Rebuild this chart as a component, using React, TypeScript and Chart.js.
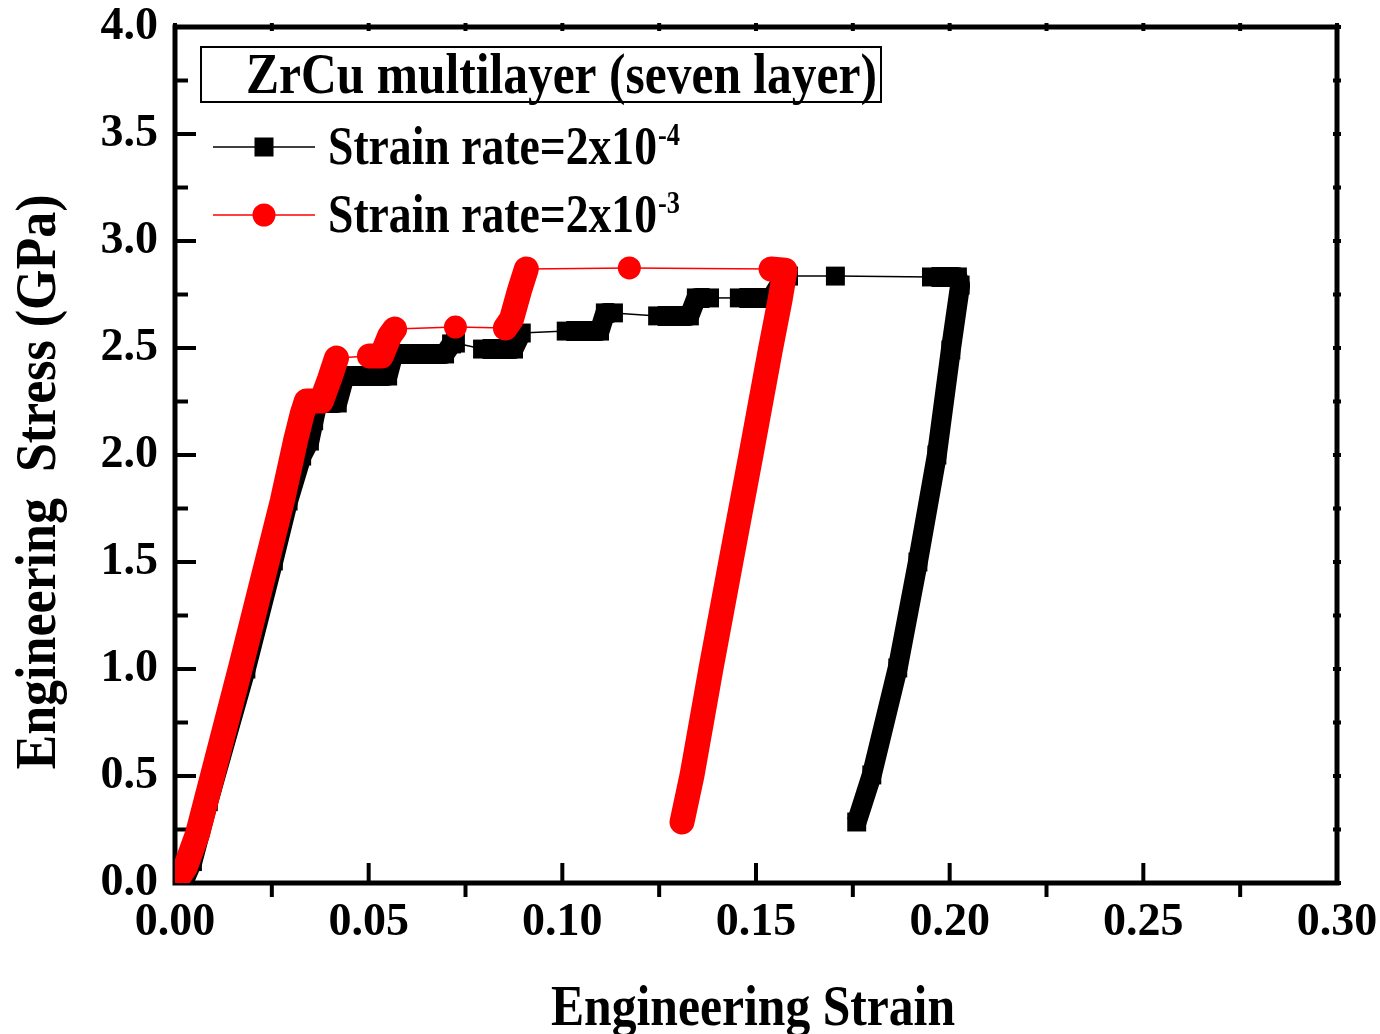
import React, { useEffect, useRef } from "react";
import { Chart, registerables } from "chart.js";

Chart.register(...registerables);

const FONT = '"Liberation Serif", "Times New Roman", serif';
const BLACK = "#000000";
const RED = "#ff0000";

// ---- data: strain rate 2x10^-4 (black squares) ----
const slowStrain = [
  0.0021, 0.0045, 0.0086, 0.0183, 0.0254, 0.0292, 0.0327, 0.0347, 0.0358, 0.0368, 0.0419, 0.0438, 0.0549, 0.0564, 0.0696, 0.0714, 0.0724,
  0.0794, 0.0874, 0.0894,
  0.101, 0.1096, 0.1111, 0.1132,
  0.1246, 0.1328, 0.1346, 0.138,
  0.1457, 0.154, 0.1566, 0.1584,
  0.1705,
  0.1953, 0.202, 0.2027, 0.2003, 0.1967, 0.1918, 0.1866, 0.1799, 0.176,
];
const slowStress = [
  0.0, 0.1, 0.38, 1.0, 1.505, 1.785, 1.995, 2.065, 2.16, 2.243, 2.243, 2.369, 2.369, 2.472, 2.472, 2.519, 2.523,
  2.495, 2.495, 2.57,
  2.579, 2.579, 2.664, 2.664,
  2.65, 2.65, 2.734, 2.734,
  2.734, 2.734, 2.813, 2.836,
  2.836,
  2.832, 2.832, 2.794, 2.491, 2.0, 1.5, 1.005, 0.505, 0.285,
];
// index where each densely sampled run of points begins
const slowRunStarts = [0, 17, 20, 24, 28, 32, 33];

// ---- data: strain rate 2x10^-3 (red circles) ----
const fastStrain = [
  0.0006, 0.0027, 0.0058, 0.0169, 0.0277, 0.0311, 0.0329, 0.0339, 0.0378, 0.0399, 0.0417,
  0.0502, 0.0533, 0.0554, 0.0567,
  0.0724,
  0.0853, 0.0869, 0.0889, 0.0907,
  0.1173,
  0.1539, 0.1575, 0.1562, 0.1537, 0.1487, 0.1435, 0.1384, 0.1335, 0.1309,
];
const fastStress = [
  0.019, 0.075, 0.229, 1.005, 1.785, 2.065, 2.196, 2.252, 2.252, 2.355, 2.453,
  2.463, 2.463, 2.556, 2.589,
  2.598,
  2.593, 2.636, 2.766, 2.869,
  2.874,
  2.869, 2.864, 2.724, 2.491, 2.0, 1.5, 1.005, 0.505, 0.285,
];
const fastRunStarts = [0, 11, 15, 16, 20, 21];

// ---- axes / labels ----
const xMin = 0;
const xMax = 0.3;
const xStep = 0.05;
const yMin = 0;
const yMax = 4.0;
const yStep = 0.5;
const xTitle = "Engineering Strain";
const yTitle = "Engineering  Stress (GPa)";
const legendTitle = "ZrCu multilayer (seven layer)";
const seriesLabels = ["Strain rate=2x10", "Strain rate=2x10"];
const seriesExponents = ["-4", "-3"];

function runIds(n: number, starts: number[]) {
  const ids: number[] = [];
  let r = -1;
  for (let i = 0; i < n; i++) {
    if (starts.includes(i)) r++;
    ids.push(r);
  }
  return ids;
}

function fitText(
  ctx: CanvasRenderingContext2D,
  text: string,
  x: number,
  y: number,
  size: number,
  width: number,
  align: CanvasTextAlign,
  rotate = false
) {
  ctx.save();
  ctx.font = `bold ${size}px ${FONT}`;
  const w = ctx.measureText(text).width;
  const sx = width / w;
  ctx.translate(x, y);
  if (rotate) ctx.rotate(-Math.PI / 2);
  ctx.scale(sx, 1);
  ctx.textAlign = align;
  ctx.textBaseline = "alphabetic";
  ctx.fillStyle = BLACK;
  ctx.fillText(text, 0, 0);
  ctx.restore();
}

const framePlugin = {
  id: "frame",
  beforeDatasetsDraw(chart: any) {
    const { ctx, chartArea: a, scales } = chart;
    const xs = scales.x;
    const ys = scales.y;
    ctx.save();
    ctx.strokeStyle = BLACK;
    ctx.fillStyle = BLACK;
    ctx.lineWidth = 5;
    ctx.strokeRect(a.left, a.top, a.right - a.left, a.bottom - a.top);
    ctx.lineWidth = 4;
    ctx.lineCap = "butt";
    const nx = Math.round((xMax - xMin) / (xStep / 2));
    for (let i = 0; i <= nx; i++) {
      const px = xs.getPixelForValue(xMin + (i * xStep) / 2);
      ctx.beginPath();
      if (i % 2 === 0) {
        ctx.moveTo(px, a.bottom);
        ctx.lineTo(px, a.bottom - 20);
      } else {
        ctx.moveTo(px, a.bottom);
        ctx.lineTo(px, a.bottom + 14);
      }
      ctx.stroke();
      ctx.beginPath();
      ctx.moveTo(px, a.top - 4);
      ctx.lineTo(px, a.top + 4);
      ctx.stroke();
    }
    const ny = Math.round((yMax - yMin) / (yStep / 2));
    for (let i = 0; i <= ny; i++) {
      const py = ys.getPixelForValue(yMin + (i * yStep) / 2);
      ctx.beginPath();
      ctx.moveTo(a.left, py);
      ctx.lineTo(a.left + (i % 2 === 0 ? 21 : 13), py);
      ctx.stroke();
      ctx.beginPath();
      ctx.moveTo(a.right - 4, py);
      ctx.lineTo(a.right + 4, py);
      ctx.stroke();
    }
    ctx.restore();
  },
};

const textPlugin = {
  id: "texts",
  afterDraw(chart: any) {
    const { ctx } = chart;
    ctx.save();
    // legend box
    ctx.strokeStyle = BLACK;
    ctx.lineWidth = 2;
    ctx.strokeRect(201, 47, 680, 55);
    fitText(ctx, legendTitle, 246, 93, 56, 631, "left");
    const rows = [
      { y: 147, color: BLACK, style: "rect", base: 164, sup: 145 },
      { y: 215, color: RED, style: "circle", base: 232, sup: 213 },
    ];
    rows.forEach((r, i) => {
      ctx.save();
      ctx.strokeStyle = r.color;
      ctx.fillStyle = r.color;
      ctx.lineWidth = 1.5;
      ctx.beginPath();
      ctx.moveTo(213, r.y);
      ctx.lineTo(315, r.y);
      ctx.stroke();
      if (r.style === "rect") {
        ctx.fillRect(264 - 9.5, r.y - 9.5, 19, 19);
      } else {
        ctx.beginPath();
        ctx.arc(264, r.y, 11.5, 0, Math.PI * 2);
        ctx.fill();
      }
      ctx.restore();
      fitText(ctx, seriesLabels[i], 328, r.base, 54, 329, "left");
      fitText(ctx, seriesExponents[i], 658, r.sup, 32, 22, "left");
    });
    // axis titles
    fitText(ctx, xTitle, 753, 1025, 56, 404, "center");
    fitText(ctx, yTitle, 55, 482, 56, 575, "center", true);
    ctx.restore();
  },
};

export default function App() {
  const ref = useRef<HTMLCanvasElement>(null);
  useEffect(() => {
    const slowPts = slowStrain.map((x, i) => ({ x, y: slowStress[i] }));
    const fastPts = fastStrain.map((x, i) => ({ x, y: fastStress[i] }));
    const slowRun = runIds(slowPts.length, slowRunStarts);
    const fastRun = runIds(fastPts.length, fastRunStarts);

    const chart = new Chart(ref.current as HTMLCanvasElement, {
      type: "line",
      data: {
        datasets: [
          {
            label: "Strain rate=2x10^-3",
            data: fastPts,
            order: 0,
            borderColor: RED,
            backgroundColor: RED,
            pointStyle: "circle",
            pointRadius: 11.5,
            pointBorderWidth: 0,
            pointBackgroundColor: RED,
            borderWidth: 1.5,
            borderCapStyle: "round",
            borderJoinStyle: "round",
            tension: 0,
            clip: 0,
            segment: {
              borderWidth: (c: any) => (fastRun[c.p0DataIndex] === fastRun[c.p1DataIndex] ? 25 : 1.5),
            },
          } as any,
          {
            label: "Strain rate=2x10^-4",
            data: slowPts,
            order: 1,
            borderColor: BLACK,
            backgroundColor: BLACK,
            pointStyle: "rect",
            pointRadius: 13.4,
            pointBorderWidth: 0,
            pointBackgroundColor: BLACK,
            borderWidth: 1.5,
            borderCapStyle: "butt",
            borderJoinStyle: "round",
            tension: 0,
            clip: 0,
            segment: {
              borderWidth: (c: any) => (slowRun[c.p0DataIndex] === slowRun[c.p1DataIndex] ? 20 : 1.5),
            },
          } as any,
        ],
      },
      options: {
        responsive: false,
        animation: false,
        events: [],
        layout: { padding: { top: 27, right: 43, left: 0, bottom: 0 } },
        plugins: { legend: { display: false }, tooltip: { enabled: false }, title: { display: false } },
        scales: {
          x: {
            type: "linear",
            min: xMin,
            max: xMax,
            border: { display: false },
            grid: { display: false, drawTicks: false },
            ticks: {
              stepSize: xStep,
              autoSkip: false,
              maxRotation: 0,
              padding: 13,
              color: BLACK,
              font: { family: FONT, size: 46, weight: "bold" },
              callback: (v: any) => Number(v).toFixed(2),
            },
            afterFit: (s: any) => {
              s.height = 151;
              s.paddingLeft = 0;
              s.paddingRight = 0;
            },
          },
          y: {
            type: "linear",
            min: yMin,
            max: yMax,
            border: { display: false },
            grid: { display: false, drawTicks: false },
            ticks: {
              stepSize: yStep,
              autoSkip: false,
              padding: 17,
              color: BLACK,
              font: { family: FONT, size: 46, weight: "bold" },
              callback: (v: any) => Number(v).toFixed(1),
            },
            afterFit: (s: any) => {
              s.width = 175;
              s.paddingTop = 0;
              s.paddingBottom = 0;
            },
          },
        },
      } as any,
      plugins: [framePlugin, textPlugin],
    });
    return () => chart.destroy();
  }, []);
  return (
    <div style={{ position: "fixed", left: 0, top: 0, width: 1380, height: 1034, background: "#fff" }}>
      <canvas ref={ref} width={1380} height={1034} style={{ display: "block", width: 1380, height: 1034 }} />
    </div>
  );
}
